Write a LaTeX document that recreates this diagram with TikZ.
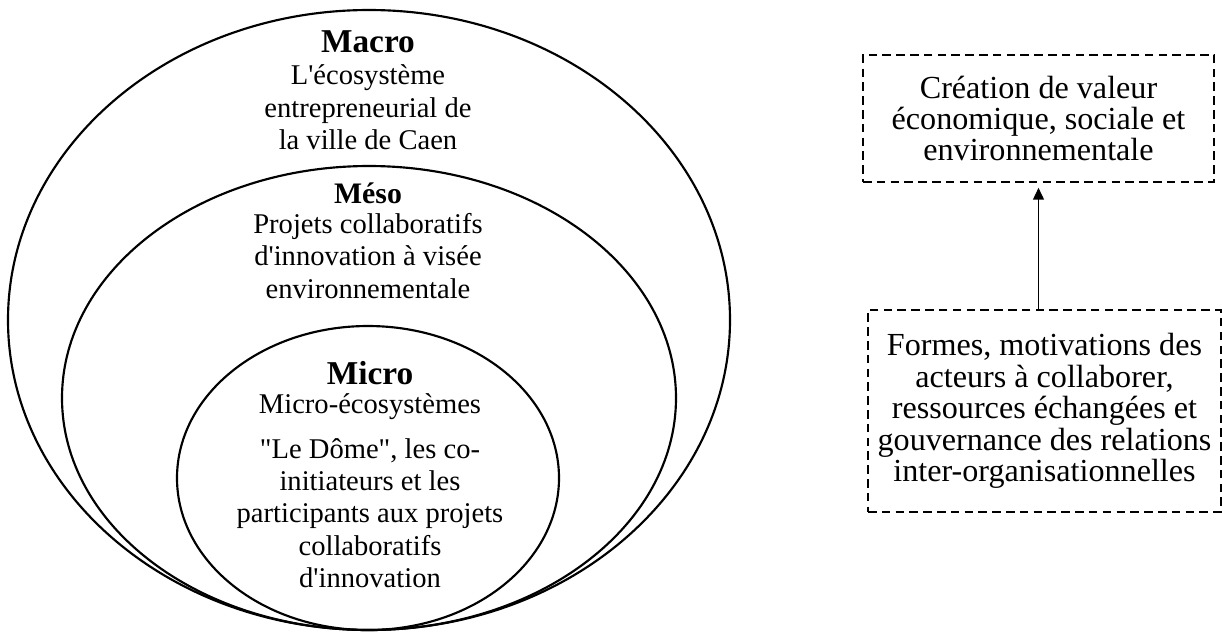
\documentclass[tikz,border=0pt]{standalone}
\usepackage{fontspec}
\setmainfont{Liberation Serif}[Ligatures=TeXOff]
\usetikzlibrary{arrows.meta,positioning,calc}

\begin{document}
\begin{tikzpicture}[x=0.42pt,y=-0.42pt,
  txt/.style={align=center,inner sep=0pt,font=\fontsize{12}{13.6}\selectfont},
  titel/.style={inner sep=0pt,font=\fontsize{#1}{#1}\selectfont\bfseries},
  niveau/.style={line width=0.9pt},
  cadre/.style={draw,line width=0.9pt,dash pattern=on 3.6pt off 2.2pt,align=center,
    font=\fontsize{13.5}{13.2}\selectfont,inner sep=0pt}]
\useasboundingbox (0,0) rectangle (1222,633);
% les trois niveaux
\coordinate (cmacro) at (369,320);
\coordinate (cmeso) at (369,398);
\coordinate (cmicro) at (368,478);
\draw[niveau] (cmacro) ellipse [x radius=361, y radius=310];
\draw[niveau] (cmeso) ellipse [x radius=307, y radius=232];
\draw[niveau] (cmicro) ellipse [x radius=191, y radius=152];
% textes
\node[titel=14] (macro) at (368,42) {Macro};
\node[txt] (macrotxt) at (368,107.5) {L'écosystème\\entrepreneurial de\\la ville de Caen};
\node[titel=12.5] (meso) at (368,193) {Méso};
\node[txt] (mesotxt) at (368,256) {Projets collaboratifs\\d'innovation à visée\\environnementale};
\node[titel=14] (micro) at (370,373) {Micro};
\node[txt] (microtxt) at (370,407) {Micro-écosystèmes};
\node[txt] (acteurs) at (370,513) {"Le Dôme", les co-\\initiateurs et les\\participants aux projets\\collaboratifs\\d'innovation};
% cadres
\node[cadre,minimum width=147.4pt,minimum height=53.3pt] (valeur) at (1038.5,118.5) {Création de valeur\\économique, sociale et\\environnementale};
\node[cadre,minimum width=148.3pt,minimum height=84.8pt] (formes) at (1044.5,411) {Formes, motivations des\\acteurs à collaborer,\\ressources échangées et\\gouvernance des relations\\inter-organisationnelles};
\draw[-{Triangle[length=5pt,width=4.6pt]},line width=0.6pt,shorten >=2pt] (formes.north -| valeur.south) -- (valeur.south);
\end{tikzpicture}
\end{document}
